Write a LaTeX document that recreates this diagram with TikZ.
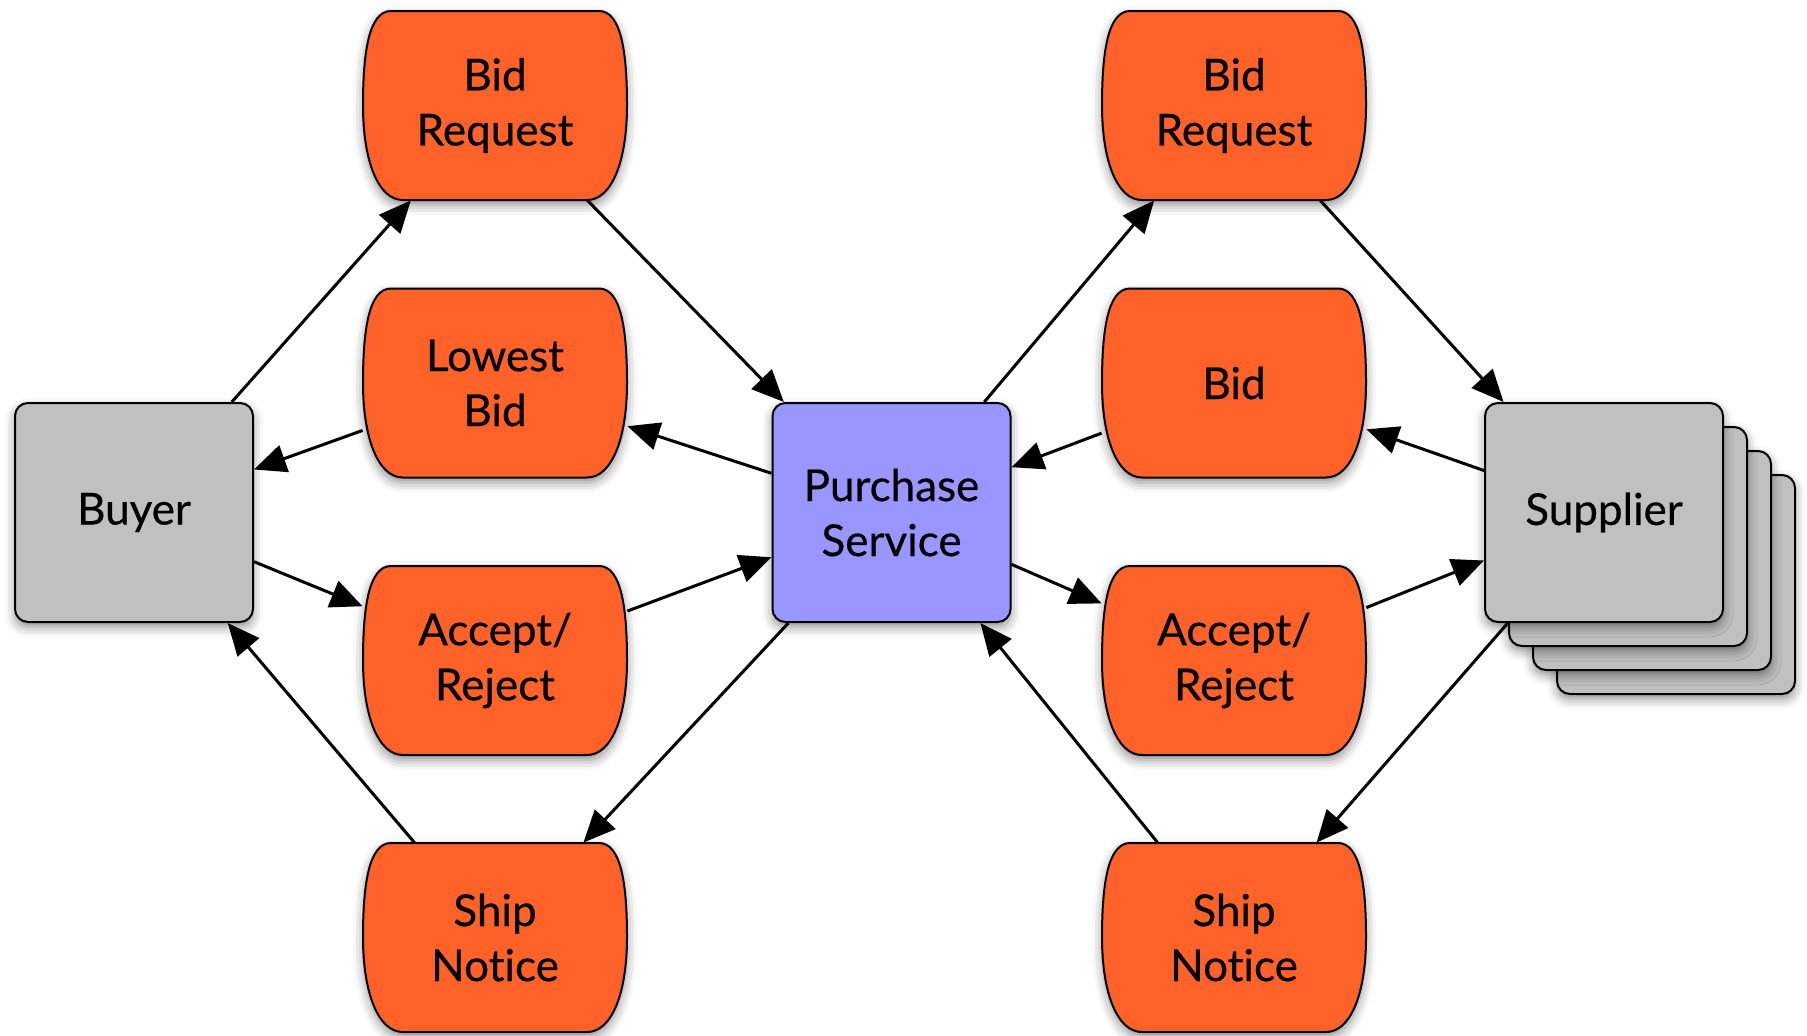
\documentclass[tikz,border=0pt]{standalone}
\usepackage{fontspec}
\setmainfont[FakeBold=0.5,Ligatures=NoCommon,RawFeature={-clig}]{Lato}
\usetikzlibrary{arrows.meta,shadows.blur,backgrounds}
\definecolor{msgorange}{RGB}{255,98,40}
\definecolor{partygrey}{RGB}{192,192,192}
\definecolor{servicepurple}{RGB}{153,150,255}

\begin{document}
\begin{tikzpicture}[x=0.5pt,y=-0.5pt]
\tikzstyle{shade}=[blur shadow={shadow xshift=0pt,shadow yshift=-2.5pt,shadow blur radius=5pt,shadow opacity=45}]
\tikzstyle{box}=[align=center,font=\fontsize{22}{27.5}\selectfont]
\tikzstyle{msg}=[box,rectangle,minimum width=132pt,minimum height=94.5pt,inner sep=0pt]
\tikzstyle{msgshape}=[draw,line width=1pt,fill=msgorange,shade]
\tikzstyle{party}=[box,shade,draw,line width=1pt,rectangle,rounded corners=6.5pt,fill=partygrey,
  minimum width=119pt,minimum height=109.5pt]
\tikzstyle{service}=[party,fill=servicepurple]
\tikzstyle{flow}=[line width=1.5pt,-{Triangle[length=16pt,width=14pt]}]
\useasboundingbox (0,0) rectangle (1807,1035);

% the two parties and the service
\node[party] (buyer) at (134,512.5) {Buyer};
\node[service] (purchase) at (891.5,512.5) {Purchase\\Service};
\foreach \k in {3,2,1}
  \node[party] (supplier\k) at ({1604+24*\k},{512.5+24*\k}) {};
\node[party] (supplier) at (1604,512.5) {Supplier};

% messages, buyer side
\node[msg] (bidreqL) at (495,105.5) {Bid\\Request};
\node[msg] (lowbid)  at (495,383)   {Lowest\\Bid};
\node[msg] (acceptL) at (495,660.5) {Accept/\\Reject};
\node[msg] (shipL)   at (495,937.5) {Ship\\Notice};

% messages, supplier side
\node[msg] (bidreqR) at (1234,105.5) {Bid\\Request};
\node[msg] (bid)     at (1234,383)   {Bid};
\node[msg] (acceptR) at (1234,660.5) {Accept/\\Reject};
\node[msg] (shipR)   at (1234,937.5) {Ship\\Notice};

% barrel outline behind every message
\begin{scope}[on background layer]
\foreach \n in {bidreqL,lowbid,acceptL,shipL,bidreqR,bid,acceptR,shipR}
  \path[msgshape,shift={(\n.center)}]
    (-104,-94.5) -- (104,-94.5)
    .. controls (127,-94.5) and (132,-50) .. (132,0)
    .. controls (132,55) and (117,94.5) .. (92,94.5)
    -- (-92,94.5)
    .. controls (-117,94.5) and (-132,55) .. (-132,0)
    .. controls (-132,-50) and (-127,-94.5) .. cycle;
\end{scope}

\draw[flow] (buyer) -- (bidreqL);
\draw[flow] (bidreqL) -- (purchase);
\draw[flow] (purchase) -- (lowbid);
\draw[flow] (lowbid) -- (buyer);
\draw[flow] (buyer) -- (acceptL);
\draw[flow] (acceptL) -- (purchase);
\draw[flow] (purchase) -- (shipL);
\draw[flow] (shipL) -- (buyer);

\draw[flow] (purchase) -- (bidreqR);
\draw[flow] (bidreqR) -- (supplier);
\draw[flow] (supplier) -- (bid);
\draw[flow] (bid) -- (purchase);
\draw[flow] (purchase) -- (acceptR);
\draw[flow] (acceptR) -- (supplier);
\draw[flow] (supplier) -- (shipR);
\draw[flow] (shipR) -- (purchase);
\end{tikzpicture}
\end{document}
